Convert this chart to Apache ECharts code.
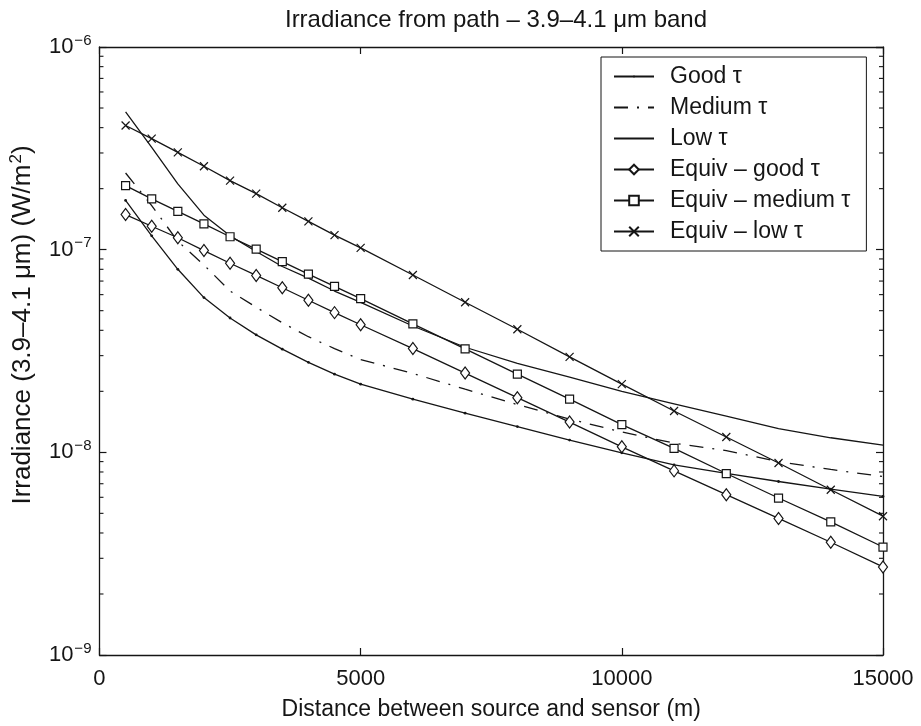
<!DOCTYPE html>
<html>
<head>
<meta charset="utf-8">
<script src="https://cdn.jsdelivr.net/npm/echarts@6/dist/echarts.min.js"></script>
<style>
  html, body { margin: 0; padding: 0; background: #fff; }
  #chart { width: 921px; height: 726px; }
</style>
</head>
<body>
<div id="chart"></div>
<script>
// Distance between source and sensor (m)
const distances = [500, 1000, 1500, 2000, 2500, 3000, 3500, 4000, 4500, 5000,
                   6000, 7000, 8000, 9000, 10000, 11000, 12000, 13000, 14000, 15000];

// Path irradiance (W/m^2) for each atmosphere case
const goodTau = [1.75e-7, 1.17e-7, 8.0e-8, 5.8e-8, 4.6e-8, 3.8e-8, 3.23e-8, 2.78e-8, 2.43e-8, 2.17e-8,
                 1.83e-8, 1.56e-8, 1.34e-8, 1.15e-8, 9.95e-9, 8.67e-9, 7.88e-9, 7.18e-9, 6.58e-9, 6.06e-9];
const mediumTau = [2.39e-7, 1.65e-7, 1.10e-7, 8.4e-8, 6.25e-8, 5.2e-8, 4.36e-8, 3.72e-8, 3.25e-8, 2.87e-8,
                   2.45e-8, 2.05e-8, 1.72e-8, 1.46e-8, 1.26e-8, 1.11e-8, 1.02e-8, 9.0e-9, 8.23e-9, 7.6e-9];
const lowTau = [4.79e-7, 3.20e-7, 2.11e-7, 1.48e-7, 1.17e-7, 9.8e-8, 8.26e-8, 7.24e-8, 6.25e-8, 5.5e-8,
                4.2e-8, 3.3e-8, 2.75e-8, 2.35e-8, 2.0e-8, 1.735e-8, 1.51e-8, 1.31e-8, 1.18e-8, 1.085e-8];
const equivGood = [1.49e-7, 1.305e-7, 1.145e-7, 9.9e-8, 8.57e-8, 7.46e-8, 6.49e-8, 5.63e-8, 4.89e-8, 4.26e-8,
                   3.25e-8, 2.46e-8, 1.86e-8, 1.41e-8, 1.065e-8, 8.1e-9, 6.18e-9, 4.72e-9, 3.6e-9, 2.72e-9];
const equivMedium = [2.07e-7, 1.78e-7, 1.545e-7, 1.34e-7, 1.158e-7, 1.007e-7, 8.73e-8, 7.57e-8, 6.59e-8, 5.73e-8,
                     4.3e-8, 3.24e-8, 2.43e-8, 1.83e-8, 1.37e-8, 1.045e-8, 7.86e-9, 5.95e-9, 4.54e-9, 3.41e-9];
const equivLow = [4.10e-7, 3.53e-7, 3.02e-7, 2.58e-7, 2.19e-7, 1.89e-7, 1.61e-7, 1.38e-7, 1.18e-7, 1.02e-7,
                  7.5e-8, 5.5e-8, 4.05e-8, 2.96e-8, 2.17e-8, 1.60e-8, 1.19e-8, 8.86e-9, 6.54e-9, 4.84e-9];

const seriesNames = ['Good τ', 'Medium τ', 'Low τ', 'Equiv – good τ', 'Equiv – medium τ', 'Equiv – low τ'];

const X_MIN = 0, X_MAX = 15000, X_STEP = 5000;
const Y_MIN = 1e-9, Y_MAX = 1e-6;

const INK = '#151515';
const FONT = '"Liberation Sans", Arial, Helvetica, sans-serif';
const FS_TEXT = 23;   // title, legend, x-axis name
const FS_TICK = 22;   // tick labels

// symbols: a small dot inside a larger empty box, and an invisible one
const DOT_SYMBOL = 'path://M0,0M10,10M4,5a1,1 0 1 0 2,0a1,1 0 1 0 -2,0Z';
const NO_SYMBOL = 'path://M0,0M10,10';
const CROSS_SYMBOL = 'path://M0,0L10,10M10,0L0,10';

// minor ticks at 2..9 x 10^n for the log axis
const minorTickValues = [];
for (let e = -9; e < -6; e++) {
  for (let m = 2; m <= 9; m++) minorTickValues.push([0, m * Math.pow(10, e)]);
}

const pair = (ys) => distances.map((d, i) => [d, ys[i]]);

const expLabel = (v) => {
  const e = Math.round(Math.log10(v));
  return '{b|10}{s|' + String(e).replace('-', '−') + '}';
};
const supRich = {
  b: { fontFamily: FONT, fontSize: FS_TICK, color: INK, lineHeight: 28 },
  s: { fontFamily: FONT, fontSize: 15, color: INK, lineHeight: 15, padding: [0, 0, 13, 1] }
};

const baseLine = (name, ys, extra) => Object.assign({
  name: name,
  type: 'line',
  data: pair(ys),
  xAxisIndex: 0,
  yAxisIndex: 0,
  smooth: false,
  animation: false,
  lineStyle: { color: INK, width: 1.3 },
  itemStyle: { color: INK },
  emphasis: { disabled: true },
  z: 3
}, extra);

const chart = echarts.init(document.getElementById('chart'), null, { renderer: 'canvas' });

chart.setOption({
  backgroundColor: '#ffffff',
  animation: false,
  textStyle: { fontFamily: FONT, color: INK },
  title: {
    text: 'Irradiance from path – 3.9–4.1 μm band',
    left: 491,
    top: 3,
    textAlign: 'center',
    textStyle: { fontFamily: FONT, fontSize: 24, fontWeight: 'normal', color: INK }
  },
  grid: { left: 98.5, right: 38, top: 47, bottom: 66, containLabel: false },
  legend: {
    data: seriesNames,
    orient: 'vertical',
    left: 601,
    top: 57,
    padding: [8, 16, 8, 12],
    itemWidth: 40,
    itemHeight: 12,
    itemGap: 8,
    backgroundColor: '#ffffff',
    borderColor: INK,
    borderWidth: 1,
    borderRadius: 0,
    selectedMode: false,
    textStyle: { fontFamily: FONT, fontSize: FS_TEXT, color: INK, lineHeight: 22, padding: [0, 0, 0, 11] }
  },
  xAxis: [{
    type: 'value',
    min: X_MIN, max: X_MAX, interval: X_STEP,
    position: 'bottom',
    name: 'Distance between source and sensor (m)',
    nameLocation: 'middle',
    nameGap: 43,
    nameTextStyle: { fontFamily: FONT, fontSize: FS_TEXT, color: INK },
    axisLine: { show: true, onZero: false, lineStyle: { color: INK, width: 1.3 } },
    axisTick: { show: true, inside: true, length: 7, lineStyle: { color: INK, width: 1.2 } },
    axisLabel: {
      fontFamily: FONT, fontSize: FS_TICK, color: INK, margin: 13,
      showMinLabel: true, showMaxLabel: true,
      formatter: (v) => String(v)
    },
    splitLine: { show: false }
  }, {
    type: 'value',
    min: X_MIN, max: X_MAX, interval: X_STEP,
    position: 'top',
    axisLine: { show: true, onZero: false, lineStyle: { color: INK, width: 1.3 } },
    axisTick: { show: true, inside: true, length: 7, lineStyle: { color: INK, width: 1.2 } },
    axisLabel: { show: false },
    splitLine: { show: false }
  }],
  yAxis: [{
    type: 'log',
    logBase: 10,
    min: Y_MIN, max: Y_MAX,
    splitNumber: 3,
    position: 'left',
    name: '{a|Irradiance (3.9–4.1 μm) (W/m}{s|2}{a|)}',
    nameLocation: 'middle',
    nameRotate: 90,
    nameGap: 54,
    nameTextStyle: {
      padding: [0, 0, 0, 52],
      rich: {
        a: { fontFamily: FONT, fontSize: 26, color: INK, lineHeight: 30 },
        s: { fontFamily: FONT, fontSize: 17, color: INK, lineHeight: 17, padding: [0, 0, 13, 1] }
      }
    },
    axisLine: { show: true, onZero: false, lineStyle: { color: INK, width: 1.3 } },
    axisTick: { show: true, inside: true, length: 7, lineStyle: { color: INK, width: 1.2 } },
    axisLabel: { formatter: expLabel, rich: supRich, margin: 8, showMinLabel: true, showMaxLabel: true },
    minorTick: { show: false },
    splitLine: { show: false }
  }, {
    type: 'log',
    logBase: 10,
    min: Y_MIN, max: Y_MAX,
    splitNumber: 3,
    position: 'right',
    axisLine: { show: true, onZero: false, lineStyle: { color: INK, width: 1.3 } },
    axisTick: { show: true, inside: true, length: 7, lineStyle: { color: INK, width: 1.2 } },
    axisLabel: { show: false },
    splitLine: { show: false }
  }],
  series: [
    baseLine('Good τ', goodTau, { symbol: DOT_SYMBOL, symbolSize: 14, showSymbol: true }),
    baseLine('Medium τ', mediumTau, {
      symbol: NO_SYMBOL, showSymbol: false,
      itemStyle: { color: 'rgba(0,0,0,0)', borderWidth: 0 },
      lineStyle: { color: INK, width: 1.3, type: [14, 9, 2, 9] }
    }),
    baseLine('Low τ', lowTau, {
      symbol: NO_SYMBOL, showSymbol: false,
      itemStyle: { color: 'rgba(0,0,0,0)', borderWidth: 0 }
    }),
    baseLine('Equiv – good τ', equivGood, {
      symbol: 'diamond', symbolSize: [9, 12], showSymbol: true,
      itemStyle: { color: '#ffffff', borderColor: INK, borderWidth: 1.2 }
    }),
    baseLine('Equiv – medium τ', equivMedium, {
      symbol: 'rect', symbolSize: 8, showSymbol: true,
      itemStyle: { color: '#ffffff', borderColor: INK, borderWidth: 1.2 }
    }),
    baseLine('Equiv – low τ', equivLow, {
      symbol: CROSS_SYMBOL, symbolSize: 8, showSymbol: true,
      itemStyle: { color: 'rgba(0,0,0,0)', borderColor: INK, borderWidth: 1.2 }
    }),
    {
      // 2..9 minor ticks on the left and right log axes
      name: 'minorTicks',
      type: 'custom',
      xAxisIndex: 0,
      yAxisIndex: 0,
      silent: true,
      animation: false,
      clip: false,
      data: minorTickValues,
      renderItem: function (params, api) {
        const v = api.value(1);
        const pl = api.coord([X_MIN, v]);
        const pr = api.coord([X_MAX, v]);
        const len = 4;
        const st = { stroke: INK, lineWidth: 1.1 };
        return {
          type: 'group',
          children: [
            { type: 'line', shape: { x1: pl[0], y1: pl[1], x2: pl[0] + len, y2: pl[1] }, style: st },
            { type: 'line', shape: { x1: pr[0] - len, y1: pr[1], x2: pr[0], y2: pr[1] }, style: st }
          ]
        };
      }
    }
  ]
});
</script>
</body>
</html>
